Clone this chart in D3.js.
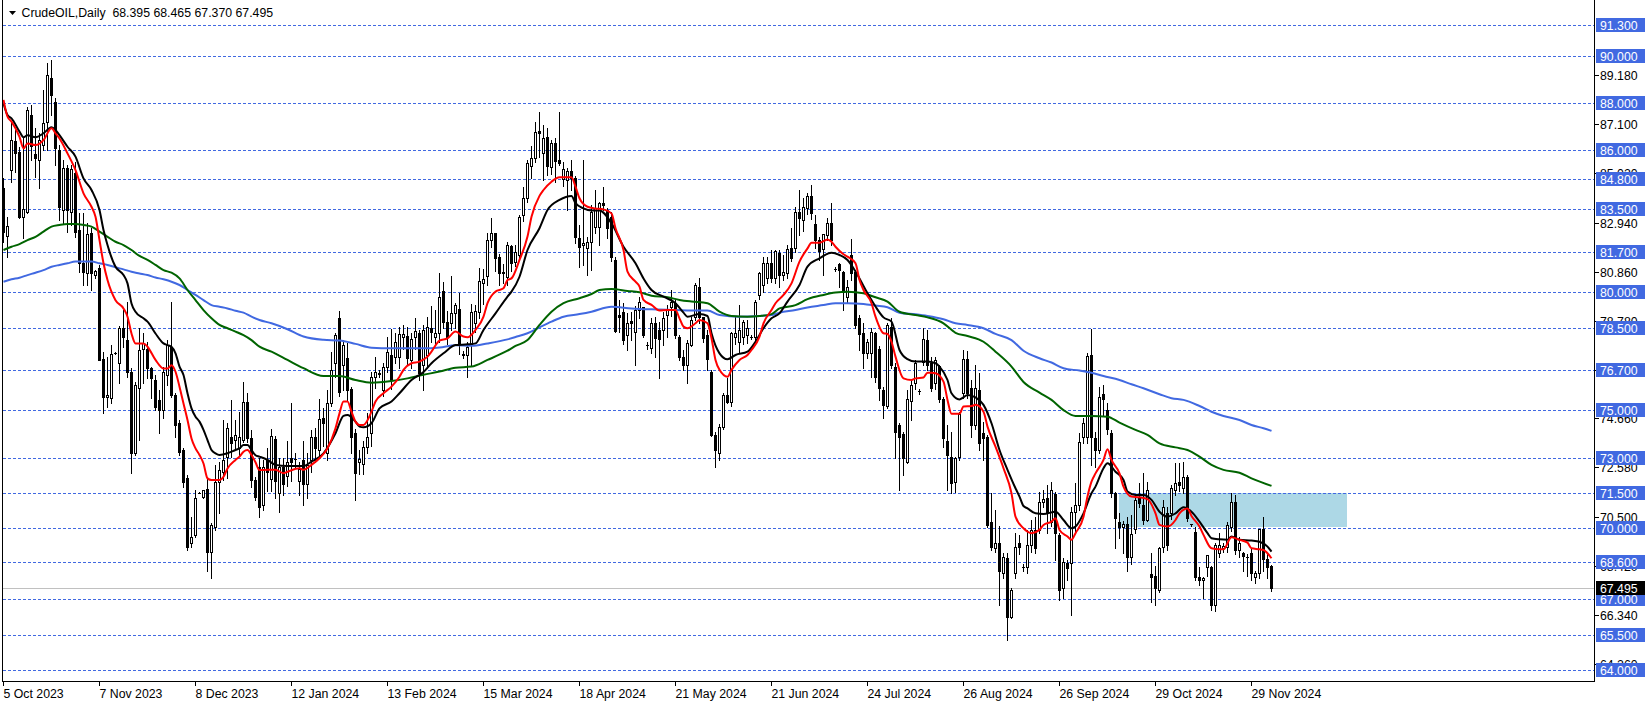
<!DOCTYPE html>
<html><head><meta charset="utf-8">
<script src="https://cdn.jsdelivr.net/npm/d3@7"></script>
<style>
html,body{margin:0;padding:0;background:#fff;}
svg{display:block;}
text{font-family:"Liberation Sans",Arial,sans-serif;font-size:12.3px;}
</style></head><body>
<svg id="c" width="1651" height="706"></svg>
<script>
// ---------- DATA ----------
const symbolTitle = "CrudeOIL,Daily  68.395 68.465 67.370 67.495";
const dateLabels = ["5 Oct 2023","7 Nov 2023","8 Dec 2023","12 Jan 2024","13 Feb 2024","15 Mar 2024","18 Apr 2024","21 May 2024","21 Jun 2024","24 Jul 2024","26 Aug 2024","26 Sep 2024","29 Oct 2024","29 Nov 2024"];
const dateLabelBars = [0,24,48,72,96,120,144,168,192,216,240,264,288,312];
const priceTicks = [89.18,87.10,85.02,82.94,80.86,78.78,76.70,74.66,72.58,70.50,68.42,66.34,64.26];
const levels = [91.3,90,88,86,84.8,83.5,81.7,80,78.5,76.7,75,73,71.5,70,68.6,67,65.5,64];
const lastPrice = 67.495;
const zoneBars = [279,336];
const zonePrices = [70.05,71.5];
// candles: [open, high, low, close]
const ohlc = [
[84.39,84.81,82.13,82.56],[82.37,83.19,81.50,82.80],[85.16,87.14,84.67,86.43],[86.40,86.86,85.10,85.90],[85.94,86.15,83.12,83.19],[83.19,86.57,82.27,83.50],[83.40,87.84,83.33,87.70],[87.50,87.90,85.60,86.20],[85.84,86.93,84.88,85.66],[85.59,86.72,84.39,86.43],
[86.22,88.55,86.01,87.14],[87.21,89.68,86.00,89.18],[89.04,89.82,87.50,88.34],[88.05,88.20,85.38,86.08],[86.01,86.22,83.05,83.61],[83.47,85.59,82.91,85.23],[85.23,85.38,82.56,83.47],[83.40,85.38,82.84,85.19],[85.02,85.52,82.34,82.56],[82.63,83.33,80.86,81.22],
[81.22,83.33,80.30,80.86],[80.82,82.91,80.30,82.44],[82.51,82.70,80.09,80.82],[80.72,80.95,80.58,80.91],[81.00,81.15,77.13,77.13],[77.16,77.48,74.90,75.58],[75.58,77.27,75.15,75.65],[75.51,77.76,75.29,77.38],[77.44,77.48,77.40,77.42],[76.99,78.58,76.14,78.47],
[78.47,79.24,77.69,78.09],[77.97,79.59,76.42,76.63],[76.63,76.77,72.36,73.18],[73.18,76.21,73.11,76.07],[75.93,78.47,73.74,77.55],[77.58,78.25,76.14,77.86],[77.58,77.90,76.35,76.77],[76.77,76.85,75.51,76.35],[76.28,76.49,75.01,75.15],[75.43,75.86,74.02,75.01],
[75.01,76.85,74.66,76.63],[76.49,77.97,76.07,77.76],[77.69,79.59,75.58,75.65],[75.65,75.72,73.88,74.38],[74.45,74.59,73.11,73.25],[73.32,73.39,71.77,71.98],[72.12,72.26,69.09,69.23],[69.37,70.50,69.23,69.65],[69.72,71.63,69.65,71.28],[71.52,71.55,71.50,71.50],
[71.35,71.63,71.30,71.63],[71.66,72.19,68.20,69.02],[69.02,70.22,67.90,70.15],[70.08,72.68,69.94,71.98],[71.98,72.83,70.64,72.47],[72.40,74.59,72.05,72.90],[73.04,74.45,72.12,74.24],[73.88,75.43,73.04,73.60],[73.74,74.59,73.32,73.95],[73.39,74.94,73.11,73.88],
[73.74,76.21,73.67,75.36],[75.36,75.72,73.67,73.81],[73.81,74.17,71.77,72.05],[72.05,72.19,71.20,71.35],[72.60,73.00,70.50,70.90],[71.00,72.90,70.80,72.60],[72.90,73.40,71.60,72.40],[72.10,74.20,71.60,73.90],[73.80,73.90,71.30,72.00],[71.50,73.00,70.70,72.60],
[72.60,73.00,71.40,71.90],[72.20,73.70,71.80,72.80],[73.00,75.30,72.00,72.80],[72.94,73.20,72.60,72.95],[72.00,72.80,71.40,72.50],[72.90,73.70,71.00,71.90],[71.90,73.20,71.30,72.70],[72.90,74.17,72.40,73.86],[73.86,74.24,72.80,73.39],[73.32,75.46,73.00,74.62],
[74.66,75.08,73.50,74.48],[73.18,75.86,72.90,75.30],[75.30,77.48,75.20,76.71],[77.00,78.26,76.40,78.19],[78.89,79.21,75.60,75.79],[76.92,77.98,75.86,77.76],[77.20,77.83,75.40,75.86],[75.89,76.00,73.18,73.89],[74.03,74.20,71.20,72.34],[72.80,73.30,72.30,72.93],
[72.73,73.70,72.30,73.46],[73.46,74.90,73.20,73.89],[74.03,76.62,73.50,76.42],[76.40,77.27,75.93,76.62],[76.54,76.70,76.40,76.56],[75.86,76.99,75.60,76.85],[76.85,78.09,76.60,77.48],[77.34,78.43,75.90,76.28],[77.27,78.26,77.00,77.90],[77.27,78.54,76.80,78.23],
[78.09,78.60,77.60,78.23],[78.14,78.54,76.90,77.20],[77.13,78.26,76.80,78.00],[78.09,78.89,77.60,78.36],[78.26,78.40,76.28,76.56],[76.90,78.60,75.86,78.40],[77.34,78.96,76.80,78.51],[78.47,79.40,77.90,78.30],[78.12,79.24,77.80,78.26],[78.26,80.82,77.90,79.81],
[80.06,80.44,78.50,78.75],[78.75,79.20,77.80,78.12],[78.71,80.68,78.40,79.10],[79.10,79.53,78.50,79.46],[79.27,79.98,77.40,77.76],[77.37,77.50,77.20,77.36],[77.34,77.90,76.42,77.69],[77.76,79.50,76.90,79.16],[78.71,79.46,78.30,79.20],[79.17,81.01,78.90,80.47],
[80.37,80.98,79.50,80.54],[80.68,82.49,80.30,82.20],[82.20,83.12,81.90,82.49],[82.49,82.49,80.90,81.43],[81.50,81.60,80.30,80.79],[80.87,81.20,80.40,80.79],[80.65,82.10,80.30,81.99],[81.95,82.00,80.90,81.25],[81.29,82.00,81.10,81.71],[81.57,83.26,81.40,83.19],
[83.26,84.46,83.00,83.97],[83.97,85.59,83.80,85.48],[85.34,86.18,84.81,85.66],[85.66,87.21,85.50,86.79],[86.83,87.63,85.73,86.72],[85.87,87.07,84.74,86.53],[86.58,86.93,84.95,85.34],[85.31,86.43,85.00,86.29],[86.32,86.51,84.67,85.55],[85.59,87.63,85.38,85.45],
[84.80,85.50,84.50,85.20],[84.74,85.24,83.47,85.14],[85.14,85.59,84.32,84.81],[84.81,84.91,82.06,82.35],[82.28,82.84,81.08,81.92],[81.99,85.59,81.15,82.09],[81.85,82.35,80.72,82.13],[82.13,83.69,80.94,83.40],[82.77,84.32,82.50,83.54],[82.77,83.83,81.99,83.78],
[83.78,84.43,83.47,83.69],[83.47,83.54,82.30,82.70],[83.19,83.40,81.30,81.50],[81.36,81.50,78.30,78.37],[79.03,79.67,78.33,78.96],[79.17,79.53,77.80,77.97],[78.19,79.10,77.55,78.68],[78.79,79.17,77.97,78.68],[78.33,79.40,76.92,79.24],[79.24,79.81,78.90,79.58],
[79.36,79.38,78.12,78.19],[77.76,77.90,77.60,77.75],[77.62,78.89,77.41,78.68],[78.68,78.96,77.27,78.05],[78.40,78.75,76.35,78.00],[78.40,79.17,77.76,78.89],[79.03,79.46,78.12,79.24],[79.38,80.09,79.00,79.60],[79.53,79.67,78.05,78.19],[78.12,78.19,77.13,77.27],
[77.27,77.55,76.71,76.92],[76.92,77.97,76.14,77.83],[77.76,78.96,77.70,78.82],[78.96,80.37,78.80,80.30],[80.23,80.58,78.70,78.96],[78.96,78.96,77.90,78.05],[78.19,78.40,76.71,77.16],[76.63,76.71,73.90,73.96],[73.96,74.10,72.60,73.32],[73.20,74.40,72.90,74.31],
[74.31,75.72,74.20,75.65],[75.65,76.35,75.30,75.37],[75.37,78.33,75.20,78.26],[78.12,78.96,77.80,78.26],[77.90,79.46,77.41,78.40],[78.12,78.82,77.80,78.75],[78.19,78.82,77.83,78.47],[78.10,78.20,78.00,78.09],[78.12,79.67,77.90,79.60],[79.88,80.87,79.70,80.79],
[80.30,81.50,80.00,81.22],[80.58,81.50,80.40,81.22],[81.22,81.78,80.44,80.58],[80.58,81.78,80.40,81.75],[81.67,81.78,80.23,80.72],[80.72,81.57,80.50,80.87],[80.80,81.99,80.60,81.81],[81.85,82.70,81.30,81.43],[81.85,83.61,81.70,83.40],[83.40,84.32,82.42,83.12],
[83.05,83.97,82.60,83.61],[83.54,84.18,83.30,84.07],[84.07,84.53,83.10,83.33],[82.88,83.26,81.85,82.21],[82.21,82.35,81.36,81.75],[81.81,82.46,80.72,82.46],[82.42,83.12,82.20,82.91],[82.94,83.76,82.00,82.21],[80.98,81.05,80.90,80.97],[81.18,81.22,80.23,80.94],
[80.84,80.90,79.24,80.00],[79.81,80.50,79.60,80.23],[81.57,82.23,80.50,80.80],[80.87,80.94,78.50,78.61],[78.89,79.03,77.55,78.23],[78.26,78.68,76.78,77.44],[77.44,78.00,77.20,77.90],[77.44,78.47,76.42,78.33],[78.26,78.33,76.21,76.42],[77.60,77.70,75.44,75.93],
[75.86,76.00,74.66,75.23],[75.18,78.68,75.10,78.61],[78.54,78.89,76.78,76.92],[76.85,76.99,72.97,74.10],[74.38,74.45,71.63,73.89],[74.00,74.10,72.26,72.97],[72.83,75.86,72.76,75.46],[75.41,76.28,74.59,76.07],[76.14,77.13,75.90,77.02],[75.82,75.90,75.70,75.81],
[77.06,78.47,76.90,78.00],[77.98,78.40,76.70,76.92],[76.99,77.27,75.80,75.93],[76.14,77.27,75.90,77.13],[76.88,76.92,75.37,75.46],[75.46,75.58,73.46,73.82],[73.70,74.38,71.63,73.11],[73.04,74.10,71.50,71.91],[71.98,73.04,71.56,72.97],[73.04,74.94,72.90,74.85],
[75.72,77.55,75.50,77.16],[77.16,77.52,75.50,75.72],[75.93,76.28,73.89,74.38],[74.38,76.92,74.20,75.93],[75.86,76.57,73.32,73.63],[74.06,74.50,72.90,73.82],[73.89,73.96,70.08,70.15],[70.29,71.49,69.10,69.23],[69.16,70.78,69.00,69.37],[69.37,70.11,66.76,68.18],
[68.10,68.95,67.90,68.81],[68.74,68.95,65.30,66.27],[66.27,67.50,66.20,67.40],[68.10,69.80,67.90,69.23],[69.37,69.73,68.90,69.23],[68.36,68.50,68.20,68.35],[68.39,69.94,68.10,69.30],[69.30,70.36,69.00,69.94],[69.94,70.50,68.95,69.16],[69.94,71.56,69.80,71.14],
[71.14,71.63,70.90,71.24],[71.28,71.84,69.80,70.64],[70.29,71.98,70.10,71.63],[71.46,71.56,68.67,69.80],[69.73,69.80,66.98,67.40],[67.47,68.74,67.05,68.60],[68.53,68.67,67.80,68.32],[68.53,70.92,66.34,70.71],[70.71,71.91,69.80,70.99],[70.99,74.03,70.80,73.67],
[73.89,74.66,73.60,74.45],[73.89,77.41,73.60,77.30],[77.34,78.43,72.69,73.89],[73.82,74.10,72.62,73.32],[73.32,76.00,73.20,75.58],[75.68,76.07,74.80,75.47],[75.00,75.30,74.00,74.20],[74.06,74.17,71.35,71.49],[71.49,71.56,69.16,70.43],[70.29,70.64,69.60,70.08],
[70.05,70.30,68.95,70.19],[70.19,70.50,68.18,68.81],[68.81,70.57,68.50,69.75],[69.99,71.42,69.80,71.21],[71.35,71.91,70.90,71.07],[71.00,72.33,70.20,70.36],[70.36,71.98,70.30,71.63],[68.08,68.95,66.91,67.96],[67.99,68.42,66.77,67.47],[67.40,69.23,67.30,69.16],
[69.23,71.21,69.00,70.92],[70.64,70.92,69.10,69.30],[70.64,71.84,70.40,71.70],[71.63,72.76,71.40,71.94],[71.98,72.76,71.60,71.84],[71.70,72.83,71.50,72.17],[72.17,72.26,70.30,70.43],[70.18,70.20,70.10,70.17],[69.87,70.08,67.80,67.96],[67.96,68.39,67.60,67.82],
[67.82,67.95,67.05,67.89],[68.39,68.88,68.00,68.88],[68.39,68.42,66.55,66.77],[66.77,69.37,66.50,69.30],[68.95,69.80,68.80,69.30],[69.16,69.40,69.00,69.26],[69.23,70.29,69.00,70.13],[70.08,71.52,69.90,71.14],[71.14,71.42,68.90,69.09],[69.09,69.66,68.80,69.37],
[68.95,69.02,68.20,68.84],[68.81,68.90,68.00,68.80],[68.95,69.16,67.80,68.10],[67.96,68.18,67.70,68.10],[68.10,69.99,67.90,69.97],[69.97,70.50,68.20,68.70],[68.70,68.95,67.90,68.39],[68.395,68.465,67.37,67.495]
];
// moving averages: [bar, value]
const maRed = [[0,88.13],[1,87.42],[2,87.21],[4,86.57],[5,86.08],[6,86.29],[8,86.22],[10,86.43],[12,86.93],[13,86.72],[14,86.5],[16,85.87],[18,85.16],[20,84.18],[22,83.61],[23,83.19],[24,82.2],[25,81.22],[26,80.51],[28,79.66],[30,79.31],[31,78.96],[32,78.25],[33,77.83],[35,77.83],[36,77.69],[38,77.13],[40,76.77],[41,76.77],[42,76.91],[43,76.63],[44,76.0],[45,75.29],[46,74.59],[47,73.81],[48,73.39],[49,73.11],[50,72.75],[51,72.12],[52,72.05],[54,72.05],[55,72.19],[56,72.54],[58,72.9],[59,73.04],[60,73.25],[61,73.32],[62,73.11],[63,72.8],[64,72.47],[66,72.48],[68,72.48],[70,72.34],[71,72.4],[74,72.55],[75,72.48],[77,72.69],[79,72.97],[81,73.39],[83,74.24],[84,74.87],[85,75.37],[86,75.37],[87,74.94],[88,74.52],[89,74.38],[90,74.38],[92,74.94],[93,75.37],[95,75.72],[97,76.0],[99,76.42],[100,76.71],[102,76.99],[104,77.06],[106,77.27],[107,77.48],[109,77.95],[111,78.04],[113,78.33],[115,78.12],[116,78.09],[118,78.4],[120,78.96],[121,79.53],[123,80.02],[125,80.16],[126,80.51],[127,80.58],[129,81.36],[131,82.35],[132,83.19],[134,84.07],[135,84.32],[137,84.67],[139,84.86],[140,84.86],[142,84.86],[143,84.46],[144,83.97],[146,83.61],[148,83.54],[150,83.5],[152,83.33],[153,82.7],[155,81.78],[156,80.87],[158,80.44],[159,80.23],[160,79.67],[162,79.46],[164,79.22],[166,79.24],[168,79.24],[169,78.89],[170,78.54],[171,78.47],[173,78.68],[174,78.82],[176,78.68],[177,78.05],[178,77.13],[179,76.71],[181,76.42],[182,76.71],[184,77.13],[186,77.34],[187,77.55],[189,78.12],[190,78.68],[192,79.24],[193,79.53],[195,79.88],[197,80.37],[199,81.29],[201,81.85],[202,82.09],[204,82.09],[206,82.23],[207,82.13],[208,81.92],[210,81.6],[211,81.5],[213,81.22],[214,80.51],[215,80.09],[217,79.53],[218,78.96],[220,78.26],[221,78.23],[222,77.9],[223,77.27],[225,76.35],[227,76.28],[228,76.35],[230,76.39],[231,76.59],[232,76.59],[233,76.57],[235,76.21],[236,75.44],[237,74.85],[239,74.85],[240,75.16],[242,75.18],[243,75.23],[245,74.94],[246,74.31],[248,73.46],[250,72.55],[252,71.49],[253,70.5],[255,70.01],[256,69.87],[257,69.8],[259,69.94],[260,70.15],[262,70.29],[263,70.43],[264,69.94],[266,69.66],[267,69.52],[268,69.8],[270,70.5],[271,71.35],[272,71.98],[273,72.33],[275,72.9],[276,73.35],[277,72.9],[279,72.33],[280,71.77],[282,71.35],[284,71.32],[286,71.24],[288,70.64],[289,70.15],[291,70.08],[293,70.36],[294,70.64],[296,70.85],[297,70.53],[299,70.08],[300,69.73],[302,69.16],[304,69.12],[305,69.12],[307,69.63],[309,69.52],[311,69.4],[312,69.16],[314,69.12],[315,69.09],[317,68.74]];
const maBlack = [[0,87.98],[1,87.49],[2,87.35],[4,86.79],[5,86.55],[6,86.64],[8,86.55],[10,86.72],[12,86.97],[13,86.86],[14,86.64],[16,86.15],[18,85.73],[20,84.81],[22,84.32],[24,83.47],[25,82.63],[26,81.99],[28,81.07],[30,80.72],[31,80.37],[32,79.52],[33,79.17],[35,78.89],[36,78.75],[38,78.25],[40,77.83],[41,77.76],[42,77.69],[43,77.41],[44,76.85],[45,76.49],[46,75.72],[47,75.08],[48,74.73],[49,74.52],[50,74.17],[51,73.74],[52,73.32],[53,73.18],[54,73.11],[56,73.18],[58,73.32],[59,73.39],[60,73.53],[61,73.53],[62,73.32],[63,73.1],[64,73.04],[66,72.9],[68,72.69],[71,72.64],[75,72.64],[77,72.83],[80,73.18],[83,74.03],[85,74.76],[86,74.8],[88,74.52],[89,74.31],[90,74.28],[92,74.45],[94,75.08],[97,75.37],[99,75.72],[102,76.28],[105,76.62],[107,76.99],[110,77.41],[113,77.76],[116,77.79],[118,77.83],[120,78.4],[123,79.1],[126,79.81],[127,80.02],[129,80.65],[131,81.78],[134,82.7],[136,83.47],[139,83.9],[142,84.07],[143,83.76],[145,83.54],[147,83.45],[149,83.45],[152,82.91],[155,81.92],[158,81.22],[160,80.58],[162,80.09],[165,79.81],[168,79.53],[170,79.13],[171,78.96],[174,79.07],[176,78.99],[177,78.26],[179,77.41],[181,77.16],[183,77.34],[186,77.48],[188,77.9],[190,78.47],[192,78.89],[194,79.1],[196,79.6],[199,80.3],[201,81.08],[204,81.43],[207,81.67],[209,81.57],[211,81.36],[213,80.87],[216,79.95],[218,79.39],[220,78.93],[222,78.75],[224,77.55],[226,77.16],[228,77.06],[231,77.06],[233,76.99],[234,76.85],[236,76.28],[237,75.72],[239,75.46],[240,75.55],[241,75.65],[243,75.55],[245,75.23],[247,74.45],[249,73.32],[251,72.48],[253,71.7],[254,71.35],[255,70.95],[256,70.85],[258,70.64],[260,70.61],[263,70.71],[265,70.36],[267,70.01],[268,70.08],[270,70.64],[272,71.49],[273,71.77],[275,72.55],[276,72.76],[278,72.4],[280,72.05],[281,71.56],[283,71.42],[285,71.42],[287,71.21],[289,70.71],[291,70.5],[293,70.64],[295,70.9],[297,70.71],[299,70.29],[301,69.8],[302,69.59],[304,69.54],[306,69.52],[307,69.66],[309,69.52],[312,69.49],[314,69.44],[316,69.23],[317,69.02]];
const maGreen = [[0,81.78],[2,81.92],[4,82.03],[6,82.2],[8,82.34],[10,82.56],[12,82.77],[14,82.84],[16,82.88],[18,82.88],[20,82.84],[22,82.77],[24,82.56],[26,82.34],[28,82.13],[30,81.99],[32,81.78],[34,81.53],[36,81.36],[38,81.15],[40,80.93],[42,80.82],[44,80.58],[46,80.09],[48,79.66],[50,79.24],[52,78.89],[54,78.61],[56,78.47],[58,78.33],[60,78.18],[62,77.97],[64,77.69],[67,77.48],[71,77.13],[75,76.78],[80,76.45],[84,76.45],[88,76.28],[92,76.17],[97,76.24],[101,76.35],[105,76.5],[109,76.64],[113,76.8],[117,76.85],[121,77.13],[126,77.52],[128,77.72],[131,77.97],[134,78.61],[137,79.17],[140,79.53],[144,79.74],[147,79.92],[149,80.09],[152,80.13],[156,80.05],[159,79.99],[162,79.85],[166,79.78],[169,79.67],[172,79.6],[176,79.53],[179,79.17],[182,78.99],[186,78.96],[189,78.99],[192,79.07],[194,79.31],[198,79.45],[201,79.7],[205,79.88],[208,79.98],[211,80.02],[215,79.95],[218,79.78],[221,79.6],[224,79.17],[228,79.03],[231,78.93],[235,78.68],[238,78.28],[241,78.14],[245,77.9],[248,77.48],[252,76.85],[255,76.2],[259,75.75],[262,75.44],[265,75.01],[268,74.76],[272,74.76],[276,74.73],[279,74.48],[283,74.17],[286,73.96],[289,73.6],[293,73.43],[296,73.32],[299,73.04],[302,72.69],[305,72.48],[309,72.36],[312,72.12],[317,71.8]];
const maBlue = [[0,80.44],[2,80.54],[4,80.61],[6,80.72],[8,80.82],[10,80.93],[12,81.07],[14,81.15],[16,81.22],[18,81.29],[20,81.29],[22,81.29],[24,81.22],[26,81.15],[28,81.05],[30,80.96],[32,80.86],[34,80.79],[36,80.72],[38,80.62],[40,80.54],[42,80.44],[44,80.3],[46,80.09],[48,79.88],[50,79.66],[52,79.45],[54,79.38],[56,79.31],[58,79.21],[60,79.13],[62,78.96],[64,78.82],[67,78.68],[71,78.43],[75,78.12],[80,77.98],[84,77.95],[88,77.81],[92,77.65],[97,77.62],[101,77.62],[105,77.62],[109,77.66],[113,77.75],[117,77.73],[121,77.83],[126,78.0],[128,78.1],[131,78.26],[134,78.51],[137,78.75],[140,78.96],[144,79.07],[147,79.17],[152,79.38],[157,79.31],[162,79.27],[168,79.24],[172,79.22],[176,79.22],[179,79.03],[184,78.96],[189,78.99],[192,79.03],[194,79.13],[198,79.24],[201,79.35],[205,79.45],[208,79.53],[211,79.53],[215,79.5],[218,79.43],[221,79.36],[224,79.13],[228,79.06],[231,78.99],[235,78.85],[238,78.68],[241,78.61],[245,78.47],[248,78.23],[252,77.97],[255,77.52],[259,77.2],[262,77.02],[265,76.78],[269,76.68],[272,76.59],[275,76.45],[279,76.28],[282,76.1],[285,75.93],[289,75.68],[292,75.51],[295,75.44],[299,75.18],[302,74.94],[305,74.76],[309,74.59],[312,74.38],[315,74.24],[317,74.13]];

// ---------- LAYOUT ----------
const plotL = 2.5, plotR = 1594.5, plotB = 681.5;
const svg = d3.select("#c");
const x = d3.scaleLinear().domain([0, 317]).range([3, 1271]);
const y = d3.scaleLinear().domain([64, 91.3]).range([670.3, 25]);
const px = v => Math.round(x(v)) + 0.5;
const py = v => Math.round(y(v)) + 0.5;

svg.append("rect").attr("width",1651).attr("height",706).attr("fill","#fff");

// zone rectangle
svg.append("rect")
  .attr("x", Math.round(x(zoneBars[0]))).attr("width", Math.round(x(zoneBars[1])) - Math.round(x(zoneBars[0])))
  .attr("y", Math.round(y(zonePrices[1]))).attr("height", Math.round(y(zonePrices[0])) - Math.round(y(zonePrices[1])))
  .attr("fill", "#ADD8E6");

// horizontal levels
svg.append("g").selectAll("line").data(levels).join("line")
  .attr("x1", plotL).attr("x2", plotR).attr("y1", d => py(d)).attr("y2", d => py(d))
  .attr("stroke", "#4169E1").attr("stroke-width", 1).attr("stroke-dasharray", "3,2").attr("shape-rendering","crispEdges");

// last price line
svg.append("line").attr("x1", plotL).attr("x2", plotR).attr("y1", py(lastPrice)).attr("y2", py(lastPrice))
  .attr("stroke", "#C0C0C0").attr("stroke-width", 1).attr("shape-rendering","crispEdges");

// candles
const gC = svg.append("g").attr("shape-rendering","crispEdges");
ohlc.forEach((d, i) => {
  const [o, h, l, c] = d;
  const cx = Math.round(x(i));
  gC.append("line").attr("x1", cx + 0.5).attr("x2", cx + 0.5).attr("y1", Math.round(y(h))).attr("y2", Math.round(y(l)) + 1)
    .attr("stroke", "#000").attr("stroke-width", 1);
  const yT = Math.round(y(Math.max(o, c))), yB = Math.round(y(Math.min(o, c)));
  if (yB - yT < 1) {
    gC.append("line").attr("x1", cx - 1).attr("x2", cx + 2).attr("y1", yT + 0.5).attr("y2", yT + 0.5).attr("stroke", "#000");
  } else if (c >= o) {
    gC.append("rect").attr("x", cx - 0.5).attr("y", yT + 0.5).attr("width", 2).attr("height", yB - yT)
      .attr("fill", "#fff").attr("stroke", "#000").attr("stroke-width", 1);
  } else {
    gC.append("rect").attr("x", cx - 1).attr("y", yT).attr("width", 3).attr("height", yB - yT + 1).attr("fill", "#000");
  }
});

// moving averages
const line = d3.line().x(d => x(d[0]) + 0.5).y(d => y(d[1])).curve(d3.curveMonotoneX);
[[maBlue, "#4169E1"], [maGreen, "#006400"], [maBlack, "#000000"], [maRed, "#FF0000"]].forEach(([data, col]) => {
  svg.append("path").attr("d", line(data)).attr("fill", "none").attr("stroke", col).attr("stroke-width", 2).attr("stroke-linejoin","round");
});

// frame
svg.append("path").attr("d", `M${plotL},0V${plotB}H${plotR}V0`).attr("fill","none").attr("stroke","#000").attr("stroke-width",1).attr("shape-rendering","crispEdges");

// price axis: plain ticks
const gP = svg.append("g");
priceTicks.forEach(v => {
  const yy = py(v);
  gP.append("line").attr("x1", plotR).attr("x2", plotR + 4).attr("y1", yy).attr("y2", yy).attr("stroke", "#000").attr("shape-rendering","crispEdges");
  gP.append("text").attr("x", 1600).attr("y", yy).attr("dy", "0.36em").attr("fill", "#000").text(v.toFixed(3));
});
// level labels
levels.forEach(v => {
  const yy = Math.round(y(v));
  gP.append("rect").attr("x", 1596).attr("y", yy - 7).attr("width", 49).attr("height", 14).attr("fill", "#4169E1");
  gP.append("text").attr("x", 1600).attr("y", yy + 0.5).attr("dy", "0.36em").attr("fill", "#fff").text(v.toFixed(3));
});
{
  const yy = Math.round(y(lastPrice));
  gP.append("rect").attr("x", 1596).attr("y", yy - 7).attr("width", 49).attr("height", 14).attr("fill", "#000");
  gP.append("text").attr("x", 1600).attr("y", yy + 0.5).attr("dy", "0.36em").attr("fill", "#fff").text(lastPrice.toFixed(3));
}

// date axis
const gD = svg.append("g");
dateLabels.forEach((t, k) => {
  const xx = px(dateLabelBars[k]);
  gD.append("line").attr("x1", xx).attr("x2", xx).attr("y1", plotB).attr("y2", plotB + 4).attr("stroke", "#000").attr("shape-rendering","crispEdges");
  gD.append("text").attr("x", xx).attr("y", 698).attr("fill", "#000").text(t);
});

// header
svg.append("path").attr("d", "M9,11H16L12.5,15Z").attr("fill", "#000");
svg.append("text").attr("x", 21.5).attr("y", 17).attr("fill", "#000").attr("xml:space","preserve").style("white-space","pre").text(symbolTitle);
</script>
</body></html>
